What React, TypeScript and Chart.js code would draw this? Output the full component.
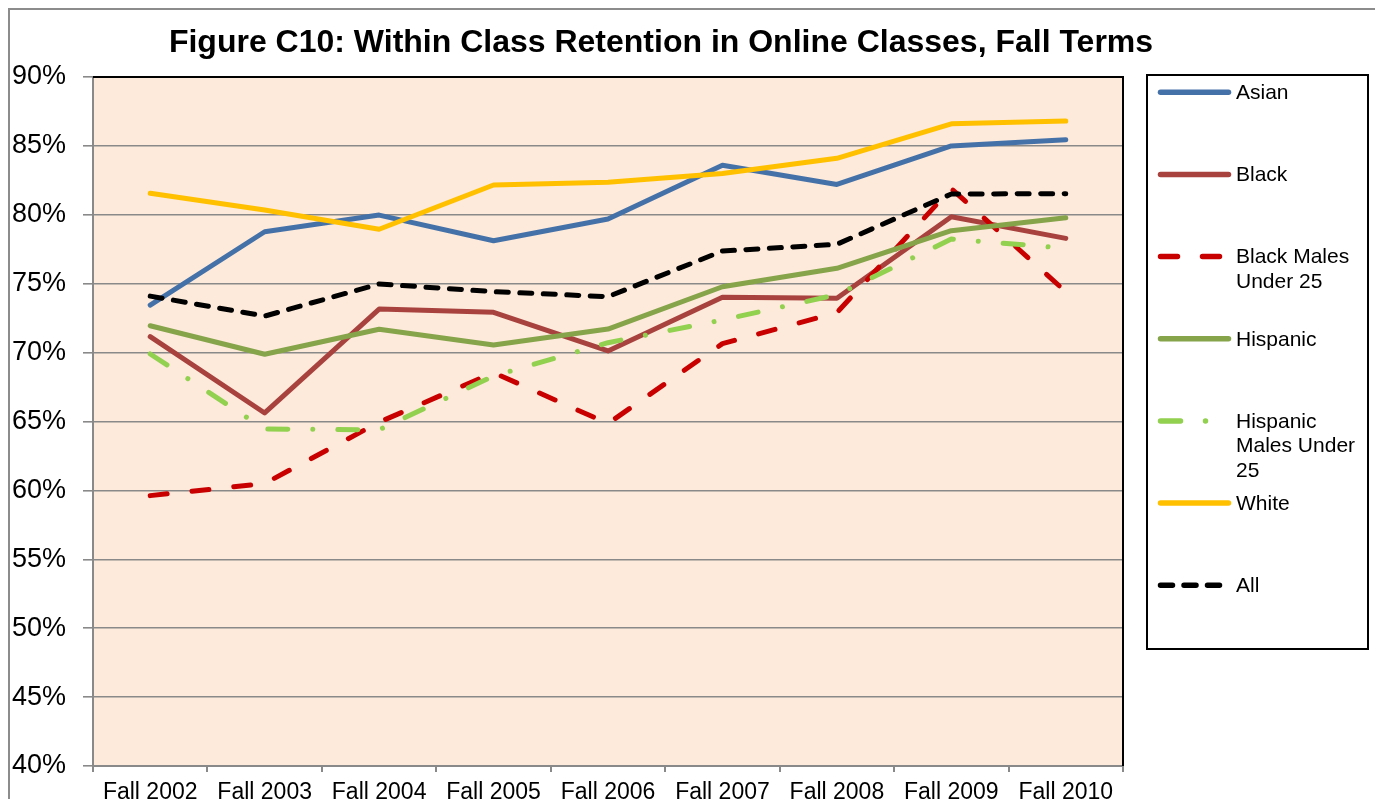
import React, { useEffect, useRef } from "react";
import { Chart, registerables } from "chart.js";

Chart.register(...registerables);

const chartTitle = "Figure C10: Within Class Retention in Online Classes, Fall Terms";

const categories = [
  "Fall 2002", "Fall 2003", "Fall 2004", "Fall 2005", "Fall 2006",
  "Fall 2007", "Fall 2008", "Fall 2009", "Fall 2010",
];

const asian = [73.45, 78.77, 79.98, 78.12, 79.7, 83.6, 82.2, 85.0, 85.45];
const black = [71.16, 65.62, 73.16, 72.92, 70.12, 74.01, 73.94, 79.86, 78.29];
const blackMalesUnder25 = [59.62, 60.5, 64.95, 68.55, 64.85, 70.65, 72.9, 81.9, 74.42];
const hispanic = [71.95, 69.88, 71.69, 70.55, 71.71, 74.78, 76.12, 78.85, 79.79];
const hispanicMalesUnder25 = [69.9, 64.45, 64.4, 68.3, 70.72, 72.37, 74.2, 78.24, 77.57];
const white = [81.56, 80.35, 78.95, 82.16, 82.36, 83.0, 84.1, 86.6, 86.8];
const all = [74.1, 72.65, 74.98, 74.42, 74.06, 77.37, 77.86, 81.51, 81.53];

const yMin = 40;
const yMax = 90;
const yStep = 5;

const seriesLabels: string[][] = [
  ["Asian"],
  ["Black"],
  ["Black Males", "Under 25"],
  ["Hispanic"],
  ["Hispanic", "Males Under", "25"],
  ["White"],
  ["All"],
];

const FONT = '"Liberation Sans", Arial, sans-serif';

const CANVAS_W = 1367;
const CANVAS_H = 797;
const PLOT_BOTTOM = 756;

const bgPlugin = {
  id: "plotBackground",
  beforeDraw(chart: any) {
    const { ctx, chartArea } = chart;
    ctx.save();
    ctx.fillStyle = "#FDEADA";
    ctx.fillRect(chartArea.left, chartArea.top, chartArea.right - chartArea.left, chartArea.bottom - chartArea.top);
    ctx.fillStyle = "#000";
    ctx.font = `bold 32px ${FONT}`;
    ctx.textAlign = "center";
    ctx.textBaseline = "alphabetic";
    ctx.fillText(chartTitle, 651, 41.7);
    ctx.restore();
  },
  beforeDatasetsDraw(chart: any) {
    const { ctx, chartArea } = chart;
    ctx.save();
    ctx.strokeStyle = "#000";
    ctx.lineWidth = 2;
    ctx.beginPath();
    ctx.moveTo(chartArea.left, chartArea.top);
    ctx.lineTo(chartArea.right, chartArea.top);
    ctx.lineTo(chartArea.right, chartArea.bottom);
    ctx.stroke();
    ctx.restore();
  },
};

const legendPlugin = {
  id: "boxLegend",
  afterDraw(chart: any) {
    const { ctx } = chart;
    ctx.save();
    ctx.strokeStyle = "#000";
    ctx.lineWidth = 2;
    ctx.strokeRect(1137, 65, 221, 574);
    chart.data.datasets.forEach((ds: any, i: number) => {
      const y = 82.3 + i * 82.15;
      ctx.strokeStyle = ds.borderColor;
      ctx.lineWidth = 5.5;
      ctx.lineCap = "round";
      ctx.setLineDash(ds.borderDash || []);
      ctx.beginPath();
      ctx.moveTo(1150.5, y);
      ctx.lineTo(1218.5, y);
      ctx.stroke();
      ctx.setLineDash([]);
      ctx.fillStyle = "#000";
      ctx.font = `21px ${FONT}`;
      ctx.textAlign = "left";
      ctx.textBaseline = "middle";
      seriesLabels[i].forEach((t, j) => ctx.fillText(t, 1226, y + 1 + j * 24.6));
    });
    ctx.restore();
  },
};

export default function App() {
  const ref = useRef<HTMLCanvasElement | null>(null);

  useEffect(() => {
    document.documentElement.style.overflow = "hidden";
    document.body.style.overflow = "hidden";
    if (!ref.current) return;
    const mk = (label: string, data: number[], color: string, dash: number[] | undefined, order: number) => ({
      label,
      data,
      borderColor: color,
      backgroundColor: color,
      borderWidth: 5,
      borderDash: dash,
      borderCapStyle: "round",
      borderJoinStyle: "round",
      pointRadius: 0,
      pointHoverRadius: 0,
      tension: 0,
      fill: false,
      order,
    });
    const chart = new Chart(ref.current, {
      type: "line",
      data: {
        labels: categories,
        datasets: [
          mk("Asian", asian, "#4571A9", undefined, 7),
          mk("Black", black, "#A8423F", undefined, 6),
          mk("Black Males Under 25", blackMalesUnder25, "#C80000", [17, 25], 5),
          mk("Hispanic", hispanic, "#86A44A", undefined, 4),
          mk("Hispanic Males Under 25", hispanicMalesUnder25, "#92D050", [20, 25, 0.01, 25], 3),
          mk("White", white, "#FFC000", undefined, 2),
          mk("All", all, "#000000", [12, 11.5], 1),
        ] as any,
      },
      options: {
        animation: false,
        responsive: false,
        devicePixelRatio: 1,
        events: [],
        layout: { padding: { top: 67, right: CANVAS_W - 1113, bottom: 0, left: 0 } },
        plugins: {
          legend: { display: false },
          title: { display: false },
          tooltip: { enabled: false },
        },
        scales: {
          x: {
            type: "category",
            offset: true,
            grid: {
              offset: true,
              drawOnChartArea: false,
              drawTicks: true,
              tickLength: 6,
              color: "#898989",
              lineWidth: 2,
            },
            border: { display: true, color: "#898989", width: 2 },
            ticks: {
              color: "#000",
              font: { family: FONT, size: 23 },
              padding: 7,
              maxRotation: 0,
              autoSkip: false,
            },
            afterFit(scale: any) {
              scale.height = CANVAS_H - PLOT_BOTTOM;
            },
          },
          y: {
            min: yMin,
            max: yMax,
            grid: {
              color: "#898989",
              lineWidth: 1.6,
              tickLength: 10,
              drawTicks: true,
            },
            border: { display: true, color: "#898989", width: 2 },
            ticks: {
              stepSize: yStep,
              color: "#000",
              font: { family: FONT, size: 27 },
              padding: 17,
              callback: (v: any) => `${v}%`,
            },
            afterFit(scale: any) {
              scale.width = 83;
            },
          },
        },
      } as any,
      plugins: [bgPlugin, legendPlugin],
    });
    return () => chart.destroy();
  }, []);

  return (
    <div
      style={{
        width: 1371,
        height: 799,
        boxSizing: "border-box",
        border: "2px solid #8c8c8c",
        borderBottom: "none",
        marginBottom: -8,
        overflow: "hidden",
        background: "#fff",
      }}
    >
      <canvas ref={ref} width={CANVAS_W} height={CANVAS_H} style={{ display: "block", width: CANVAS_W, height: CANVAS_H }} />
    </div>
  );
}
